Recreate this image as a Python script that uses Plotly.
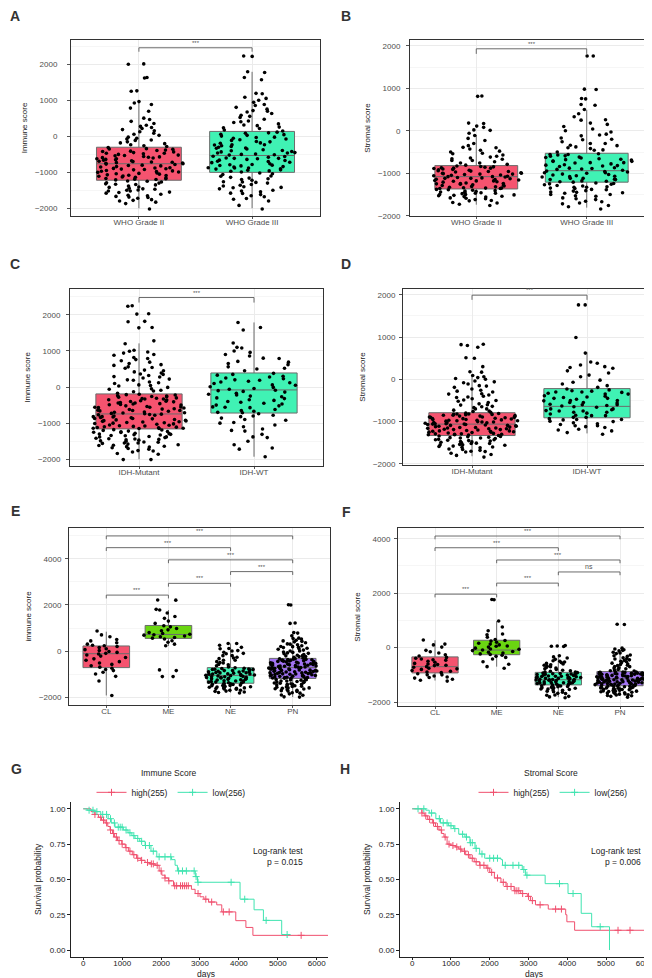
import numpy as np
import plotly.graph_objects as go

W, H = 652, 978
FONT = "Liberation Sans, Arial, sans-serif"

# ---------------- categories ----------------
grade_cats = ["WHO Grade II", "WHO Grade III"]
idh_cats = ["IDH-Mutant", "IDH-WT"]
subtype_cats = ["CL", "ME", "NE", "PN"]

# ---------------- A: immune score by grade ----------------
immune_grade2 = [2020, 2010, 1640, 1630, 1270, 1260, 970, 930, 890, 790, 700,
    510, 470, 360, 310, 280, 250, 190, 160, 90, 60, 30, -20, -70, -110, -150, -180, -230, -260, -280,
    -310, -340, -360, -390, -420, -450, -470, -500, -520, -540, -570, -600, -620, -640, -660, -690,
    -710, -730, -750, -760, -780, -800, -820, -850, -870, -890, -910, -930, -960, -980, -1000, -1020,
    -1040, -1070, -1090, -1110, -1130, -1160, -1180, -1200, -1210, -580, -880, -1050, -430, -700, -950, -1140,
    -1240, -1270, -1290, -1320, -1350, -1380, -1410, -1440, -1470, -1500, -1520, -1550, -1580, -1610,
    -1640, -1670, -1700, -1720, -1760, -1800, -1830, -1870, -2020, -1250, -1330, -1460,
    -350, -410, -480, -530, -590, -650, -720, -770, -840, -900, -970, -1030, -1100, -1170, -1190,
    -380, -560, -810, -1080, -620, -1300, -1420, -1560, -1650, -1780, -1340, -1490, 130, -50, -200,
    420, 220, -100, -1520, -1690, -680, -920, -990, -740, -470]
immune_grade3 = [2240, 2230, 1800, 1780, 1640, 1580, 1200, 1190, 1090, 1060, 1010, 950, 890, 860, 810,
    760, 720, 680, 640, 590, 530, 480, 430, 390, 350, 300, 260, 220, 180,
    120, 90, 50, 10, -30, -70, -110, -150, -190, -230, -260, -300, -330, -370, -400, -430, -460, -490,
    -520, -550, -580, -610, -640, -670, -700, -730, -760, -790, -820, -850, -880, -910, -940, -970, -990,
    -20, -240, -450, -660, -840, 60, -140, -350, -560, -780, -930,
    -1020, -1060, -1100, -1140, -1180, -1220, -1260, -1300, -1340, -1380, -1420, -1460, -1500, -1540,
    -1580, -1620, -1680, -1730, -1800, -1920, -2020, -1110, -1270, -1430,
    -50, -180, -320, -420, -510, -600, -690, -800, -870, -960, 30, -90, -280, -500, -720, -900, 100,
    -390, -620, -810, 560, 700, 410, 320, 240, 150, -1040, -1160, -1280, -1400, -1520, -1650, -1200,
    -1360, -1590, -1750, -610, -460, -230, -880]
# box stats: q1, median, q3, lower whisker, upper whisker
immune_grade_stats = [[-1220, -760, -300, -2000, 960], [-1000, -530, 140, -2000, 1800]]

# ---------------- B: stromal score by grade ----------------
stromal_grade2 = [820, 810, 180, 170, 110, 80, 20, 10, -60, -110, -180, -230, -300, -350, -390, -430,
    -460, -500, -530, -570, -600, -640, -670, -700, -730, -760, -790, -810,
    -830, -850, -870, -890, -910, -930, -950, -970, -990, -1010, -1030, -1050, -1070, -1080, -1090,
    -1110, -1130, -1150, -1170, -1190, -1210, -1230, -1250, -1270, -1290, -1310, -1330, -1350, -1360,
    -900, -1000, -1120, -1240, -960, -1060, -1180, -1300, -880, -1020, -1140,
    -1380, -1400, -1420, -1440, -1460, -1480, -1500, -1520, -1540, -1560, -1590, -1620, -1650, -1690,
    -1730, -1760, -1410, -1470, -1530,
    -840, -880, -920, -960, -1000, -1040, -1080, -1120, -1160, -1200, -1240, -1280, -1320, -1360,
    -860, -940, -1020, -1100, -1180, -1260, -1340, -1390, -1430, -1470, -1510, -1550, -1600, -1450,
    -1500, -700, -620, -540, -480, -400, -760, -660, -1700, -1640, -1580, -1350]
stromal_grade3 = [1760, 1760, 980, 970, 760, 750, 620, 600, 500, 400, 330, 260, 250, 180, 100, 40, -30,
    -80, -120, -170, -210, -260, -300, -340, -380, -420, -460, -500,
    -540, -570, -600, -630, -660, -690, -720, -750, -780, -810, -840, -870, -900, -930, -950, -970,
    -1000, -1030, -1060, -1090, -1120, -1150, -1180, -1200, -620, -710, -820, -990, -1080, -560, -680,
    -890, -1140, -760, -1020,
    -1230, -1260, -1290, -1320, -1350, -1380, -1410, -1440, -1470, -1500, -1540, -1580, -1620, -1670,
    -1720, -1790, -1840, -1250, -1330, -1450,
    -560, -640, -720, -800, -880, -960, -1040, -1120, -1190, -590, -670, -750, -830, -910, -990,
    -1070, -1150, -1210, -1270, -1330, -1390, -1460, -1530, -1600, -1660, -1240, -1300, -1360, -400,
    -300, -200, -100, -450, -350, 0, 150, -1700, -1760, -1500, -1420]
stromal_grade_stats = [[-1370, -1080, -820, -1740, -100], [-1210, -940, -530, -1810, 490]]

# ---------------- C: immune score by IDH ----------------
immune_idh_mut = [2250, 2240, 2030, 2020, 1820, 1810, 1650, 1640, 1280, 1200, 1020, 990, 970, 940, 900,
    880, 820, 790, 730, 690, 650, 600, 560, 520, 470, 420, 390, 350, 320, 290, 250, 220, 190, 140, 100,
    60, 30, -10, -50, -90, -130, -170,
    -200, -220, -250, -280, -300, -330, -360, -390, -410, -440, -470, -490, -520, -540, -570, -600,
    -620, -650, -670, -700, -720, -740, -760, -780, -800, -830, -850, -870, -900, -920, -940, -960,
    -990, -1010, -1030, -1060, -1080, -1100, -1120, -1140, -1150, -260, -350, -460, -550, -640, -730,
    -820, -910, -1000, -1090, -310, -430, -580, -690, -870, -980, -1130,
    -1180, -1200, -1230, -1260, -1290, -1310, -1340, -1370, -1400, -1430, -1460, -1490, -1520, -1550,
    -1580, -1610, -1640, -1680, -1720, -1760, -1800, -1840, -2010, -2010, -1250, -1350, -1450, -1550,
    -1650, -1300, -1420,
    -210, -270, -330, -380, -440, -500, -560, -610, -660, -710, -770, -820, -880, -930, -970, -1020,
    -1070, -1110, -1150, -240, -320, -400, -480, -560, -650, -750, -840, -950, -1050, -1140, -1190,
    -1220, -1280, -1330, -1380, -1440, -1500, -1560, -1620, -1700, -1770, -1860, -1240, -1320, 40,
    120, 200, 280, 360, 450, 540, -60, -110, 620, 760, -1380, -1470, -1530, -1600, -1660]
immune_idh_wt = [1790, 1650, 1580, 1220, 1100, 1080, 1000, 960, 860, 790, 710, 690, 620, 560, 520, 450,
    380, 330, 280, 230, 190, 140, 100, 60, 10, -40, -90, -120, -170, -220, -270, -320, -370, -420,
    -470, -520, -570, -620, -670, -710, 250, -10, -300, -560, 160, -140, -450,
    -740, -780, -820, -860, -920, -980, -1050, -1100, -1160, -1220, -1310, -1380, -1500, -1690,
    -1720, -1930,
    350, 200, 50, -100, -250, -400, -550, -700, 300, 120, -60, -200, -350, -500, -650, -800, -900,
    -1000, -1200, -1400, 500, 650, 800, 900, -1600]
immune_idh_stats = [[-1160, -745, -190, -2000, 1210], [-720, -80, 390, -1930, 1790]]

# ---------------- D: stromal score by IDH ----------------
stromal_idh_mut = [830, 820, 800, 760, 510, 500, 300, 180, 170, 90, 40, 20, 0, -40, -80, -110, -150,
    -190, -230, -260, -300, -340, -370, -400, -430, -460, -490, -520, -550, -580, -610, -640, -670,
    -700, -730, -760, -780,
    -800, -820, -840, -860, -880, -900, -920, -940, -960, -980, -1000, -1020, -1040, -1060, -1080,
    -1100, -1120, -1140, -1160, -1180, -1200, -1220, -1240, -1260, -1280, -1300, -1320, -850, -930,
    -1010, -1090, -1170, -1250, -830, -970, -1110, -1230, -890, -1050, -1190, -1310, -870, -1030,
    -1150, -950, -1070, -1290,
    -1340, -1360, -1380, -1400, -1420, -1440, -1460, -1480, -1500, -1520, -1540, -1560, -1590, -1620,
    -1650, -1680, -1710, -1750, -1800, -1840, -1370, -1430, -1490, -1550, -1610,
    -810, -830, -850, -870, -890, -910, -930, -950, -970, -990, -1010, -1030, -1050, -1070, -1090,
    -1110, -1130, -1150, -1170, -1190, -1210, -1230, -1250, -1270, -1290, -1310, -1330, -820, -900,
    -980, -1060, -1140, -1220, -1300, -1350, -1390, -1430, -1470, -1510, -1550, -1600, -1660, -1720,
    -1390, -1450, -1520, -600, -650, -700, -750, -500, -420, -350, -280, -160, -60, 60, -1580, -1700,
    -1780]
stromal_idh_wt = [1760, 1760, 990, 620, 410, 380, 340, 280, 260, 150, 60, -20, -70, -110, -150, -190,
    -230, -270, -310, -350, -390, -430, -470, -510, -550, -590, -630, -660, -700, -740, -780, -820,
    -860, -900, -280, -420, -560, -720, -860, -330, -500, -620, -780,
    -930, -960, -990, -1030, -1070, -1100, -1140, -1180, -1220, -1260, -1300, -950, -1050, -1120,
    -250, -300, -350, -400, -450, -500, -550, -600, -650, -700, -750, -800, -850, -900, -950, -1000,
    -1100, -1200, -300, -450, -600, -750, 100, 200, 300]
stromal_idh_stats = [[-1330, -1060, -790, -1820, 80], [-910, -640, -220, -1280, 640]]

# ---------------- E: immune score by subtype ----------------
immune_cl = [870, 700, 620, 500, 440, 360, 300, 250, 230, 200, 150, 100, 60, 20, -20, -60, -100, -130,
    -170, -220, -280, -340, -400, -460, -520, -580, -640, -700, -750, -800, -850, -920, -1000, -1100,
    -1300, -1930]
immune_me = [2220, 2210, 1780, 1810, 1650, 1500, 1420, 1300, 1200, 1100, 1050, 980, 920, 880, 800, 760,
    730, 710, 690, 650, 620, 590, 560, 520, 450, 380, 300, 230, -820, -850, -1110, -1110]
immune_ne = [330, 330, 250, 160, 110, 20, -50, -120, -200, -270, -330, -400, -460, -520, -580, -640, -690,
    -730, -760, -790, -820, -850, -880, -910, -940, -960, -990, -1010, -1040, -1060, -1080, -1110,
    -1140, -1170, -1200, -1230, -1260, -1290, -1320, -1350, -1380, -1390, -800, -870, -930, -1000,
    -1070, -1150, -1220, -1300, -780, -1020, -1180, -1340, -900, -1120,
    -1420, -1450, -1480, -1510, -1540, -1570, -1600, -1630, -1660, -1700, -1740, -1780, -1820, -1440,
    -1500, -1560, -1620,
    -750, -800, -850, -900, -950, -1000, -1050, -1100, -1150, -1200, -1250, -1300, -1350, -1400,
    -1450, -1500, -1550, -1600, -1650, -1700, -1750, -1800, -600, -500, -400, -300, -200, -100, 0, 100]
immune_pn = [2010, 2000, 1220, 1200, 800, 780, 660, 560, 520, 470, 440, 400, 360, 310, 270, 230, 190,
    150, 120, 80, 40, 0, -40, -80, -120, -150, -180, -210, -240, -270, -300,
    -330, -350, -370, -390, -410, -430, -450, -470, -490, -510, -530, -550, -570, -590, -610, -630,
    -650, -670, -690, -710, -730, -750, -770, -790, -810, -830, -850, -870, -890, -910, -930, -950,
    -970, -990, -1010, -1030, -1050, -1070, -1090, -1110, -1130, -1150, -1170, -1180, -360, -440,
    -520, -600, -680, -760, -840, -920, -1000, -1080, -400, -560, -720, -880, -1040,
    -1210, -1240, -1270, -1300, -1330, -1360, -1390, -1420, -1450, -1480, -1510, -1540, -1570, -1600,
    -1640, -1680, -1720, -1760, -1810, -1860, -1920, -1990, -2000, -1260, -1350, -1440, -1530, -1620,
    -340, -420, -500, -580, -660, -740, -820, -900, -980, -1060, -1140, -380, -460, -540, -620, -700,
    -780, -860, -940, -1020, -1100, -1180, -1250, -1320, -1400, -1480, -1560, -1650, -1740, -1830,
    -1910, -200, -100, 0, 100, 200, 300, 420, 540, -60, -240, 160, -1300, -1450, -1600, -1700, -350,
    -650, -950, -1150]
immune_subtype_stats = [[-720, -115, 220, -1930, 840], [550, 720, 1110, 220, 1780],
                        [-1400, -1060, -720, -1810, 330], [-1190, -720, -320, -2000, 770]]

# ---------------- F: stromal score by subtype ----------------
stromal_cl = [280, 130, 100, 20, -100, -150, -200, -260, -310, -360, -390, -420, -460, -500, -540, -580,
    -620, -660, -700, -720, -760, -800, -840, -870, -900, -920, -450, -600, -780, -650,
    -960, -1000, -1040, -1080, -1120, -1160, -1200, -1230, -1100, -1000]
stromal_me = [1770, 1760, 980, 760, 620, 500, 470, 380, 300, 260, 240, 200, 160, 130, 100, 60, 20, -20,
    -60, -90, -110, -140, -170, -200, -230, -250, 50, -50, -280, -320, -360, -420, -520, -610, -700, -760]
stromal_ne = [80, 60, 50, 40, -300, -340, -380, -430, -480, -530, -580, -630, -680, -730, -780, -830,
    -870, -900, -920, -940, -960, -980, -1000, -1020, -1040, -1060, -1080, -1100, -1120, -1140, -1160,
    -1180, -1200, -1220, -1240, -1260, -1280, -1300, -1320, -1340, -1360, -950, -1010, -1070, -1130,
    -1190, -1250, -1310, -990, -1110, -1230, -1050, -1170, -1290,
    -1380, -1400, -1430, -1460, -1490, -1520, -1560, -1600, -1640, -1690, -1740, -1790, -1840, -1410,
    -1470, -1540,
    -930, -970, -1010, -1050, -1090, -1130, -1170, -1210, -1250, -1290, -1330, -1370, -1400, -1440,
    -1480, -1520, -1570, -1620, -1680, -1750, -1810, -900, -850, -800, -750, -700, -650, -600, -550, -500]
stromal_pn = [860, 850, -20, -50, -80, -120, -170, -220, -270, -320, -370, -420, -470, -520, -570, -620,
    -660, -700, -740, -780, -820, -860,
    -890, -910, -930, -950, -970, -990, -1010, -1030, -1050, -1070, -1090, -1110, -1130, -1150, -1170,
    -1190, -1210, -1230, -1250, -1270, -1290, -1310, -1330, -1350, -1370, -1390, -900, -960, -1020,
    -1080, -1140, -1200, -1260, -1320, -1380, -920, -1000, -1060, -1120, -1180, -1240, -1300, -1360,
    -940, -1040, -1160, -1280, -980, -1100, -1220, -1340,
    -1410, -1430, -1450, -1470, -1490, -1510, -1530, -1550, -1570, -1590, -1610, -1640, -1670, -1700,
    -1730, -1760, -1790, -1820, -1420, -1480, -1540, -1600, -1660,
    -900, -940, -980, -1020, -1060, -1100, -1140, -1180, -1220, -1260, -1300, -1340, -1380, -910, -970,
    -1030, -1090, -1150, -1210, -1270, -1330, -1390, -1420, -1460, -1500, -1540, -1580, -1620, -1680,
    -1740, -1440, -1520, -1600, -800, -700, -600, -500, -400, -300, -200, -100, -850, -750, -650,
    -550, -450, -1650, -1710, -1770, -1480]
stromal_subtype_stats = [[-930, -700, -340, -1210, 270], [-260, -90, 270, -700, 980],
                         [-1370, -1180, -910, -1820, -340], [-1400, -1150, -880, -1770, -170]]

# significance brackets: (group i, group j), bracket height, label
grade_sig_immune = ([(0, 1)], [2470], ["***"])
grade_sig_stromal = ([(0, 1)], [1930], ["***"])
idh_sig_immune = ([(0, 1)], [2480], ["***"])
idh_sig_stromal = ([(0, 1)], [1990], ["***"])
subtype_pairs = [(0, 1), (1, 2), (2, 3), (1, 3), (0, 2), (0, 3)]
subtype_sig_immune = (subtype_pairs, [2430, 2940, 3450, 3960, 4490, 5000], ["***"] * 6)
subtype_sig_stromal = (subtype_pairs, [1965, 2370, 2780, 3220, 3670, 4100],
                       ["***", "***", "ns", "***", "***", "***"])

# ---------------- G / H: Kaplan-Meier ----------------
km_immune_high_t = [0, 70, 200, 300, 390, 470, 560, 630, 690, 750, 800, 880, 990, 1080, 1160, 1260, 1370,
    1480, 1590, 1700, 1850, 1950, 2020, 2100, 2190, 2320, 2780, 2875, 3000, 3100, 3220, 3430, 3560,
    3920, 4180, 4360, 6300]
km_immune_high_s = [1.0, 1.0, 0.98, 0.96, 0.94, 0.92, 0.90, 0.875, 0.85, 0.825, 0.80, 0.775, 0.75, 0.725,
    0.70, 0.675, 0.65, 0.635, 0.62, 0.61, 0.60, 0.56, 0.53, 0.51, 0.49, 0.455, 0.43, 0.40, 0.377, 0.36,
    0.34, 0.32, 0.27, 0.208, 0.16, 0.104, 0.104]
km_immune_high_cens = [300, 450, 520, 600, 700, 780, 850, 920, 1000, 1100, 1200, 1300, 1400, 1500, 1650,
    1750, 1800, 1900, 2000, 2100, 2200, 2350, 2400, 2500, 2550, 2600, 2650, 2700, 2950, 3150, 3300,
    3600, 3750, 5600]
km_immune_low_t = [0, 100, 300, 450, 640, 720, 815, 1030, 1150, 1250, 1330, 1450, 1590, 1740, 1890, 2270,
    2360, 2420, 2880, 2935, 4030, 4390, 4630, 5100, 5240]
km_immune_low_s = [1.0, 0.99, 0.98, 0.96, 0.93, 0.90, 0.87, 0.85, 0.83, 0.81, 0.79, 0.77, 0.74, 0.70,
    0.66, 0.64, 0.60, 0.56, 0.52, 0.48, 0.36, 0.285, 0.21, 0.11, 0.11]
km_immune_low_cens = [150, 250, 350, 500, 600, 700, 800, 900, 950, 1000, 1100, 1200, 1300, 1400, 1500,
    1600, 1700, 1800, 1950, 2100, 2250, 2450, 2550, 2650, 2850, 2900, 2950, 3800, 4150, 4700, 5240]

km_stromal_high_t = [0, 185, 250, 310, 400, 520, 600, 690, 760, 820, 900, 1000, 1110, 1200, 1280, 1380,
    1490, 1600, 1740, 1910, 2000, 2120, 2290, 2420, 2630, 2800, 2970, 3050, 3180, 3510, 3960, 3990,
    4190, 6300]
km_stromal_high_s = [1.0, 1.0, 0.97, 0.95, 0.925, 0.90, 0.875, 0.85, 0.825, 0.80, 0.75, 0.74, 0.73,
    0.715, 0.70, 0.675, 0.65, 0.625, 0.60, 0.58, 0.55, 0.51, 0.48, 0.45, 0.42, 0.40, 0.38, 0.35, 0.32,
    0.29, 0.25, 0.20, 0.14, 0.14]
km_stromal_high_cens = [250, 350, 450, 550, 650, 750, 850, 950, 1050, 1150, 1250, 1350, 1450, 1550,
    1650, 1750, 1850, 1950, 2050, 2200, 2350, 2450, 2550, 2650, 2700, 2750, 2850, 3000, 3100, 3300,
    3700, 3850, 5310, 5620]
km_stromal_low_t = [0, 350, 440, 610, 730, 940, 1070, 1200, 1360, 1490, 1620, 1740, 1870, 2290, 2330,
    2840, 2920, 3430, 4020, 4360, 4630, 5090]
km_stromal_low_s = [1.0, 0.99, 0.97, 0.93, 0.90, 0.88, 0.86, 0.82, 0.80, 0.76, 0.72, 0.68, 0.65, 0.64,
    0.60, 0.57, 0.53, 0.47, 0.40, 0.26, 0.165, 0.0]
km_stromal_low_cens = [150, 300, 500, 700, 800, 900, 1000, 1100, 1300, 1400, 1500, 1550, 1650, 1800,
    2000, 2100, 2200, 2400, 2600, 2750, 2880, 2960, 3800, 4150, 4850]

km_legend_labels = ["high(255)", "low(256)"]
km_pvalues = ["p = 0.015", "p = 0.006"]

# ---------------- styling ----------------
RED = "#F5536F"
TEAL = "#40F2B4"
GREEN = "#6AD611"
PURPLE = "#A273F2"
KM_RED = "#F0506E"
KM_TEAL = "#3FE4B0"
GRID = "#EBEBEB"
MINOR = "#F6F6F6"
TXT = "#4D4D4D"


def xd(a, b):
    return [a / W, b / W]


def yd(top, bottom):
    return [1 - bottom / H, 1 - top / H]


fig = go.Figure()
layout = dict(width=W, height=H, margin=dict(l=0, r=0, t=0, b=0),
              paper_bgcolor="white", plot_bgcolor="white", boxmode="overlay",
              font=dict(family=FONT, size=8, color=TXT), showlegend=True,
              annotations=[], shapes=[])

box_panels = [
    # axis idx, cats, values, stats, colors, xdom, ydom, yrange, dtick, ytitle, sig, drop, ylabel pad
    (1, grade_cats, [immune_grade2, immune_grade3], immune_grade_stats, [RED, TEAL],
     (63, 312), (32, 209), [-2220, 2690], 1000, "Immune score", grade_sig_immune, 110, 8),
    (2, grade_cats, [stromal_grade2, stromal_grade3], stromal_grade_stats, [RED, TEAL],
     (402, 645), (32, 209), [-2010, 2140], 1000, "Stromal score", grade_sig_stromal, 120, 4),
    (3, idh_cats, [immune_idh_mut, immune_idh_wt], immune_idh_stats, [RED, TEAL],
     (62, 315), (282, 460), [-2190, 2720], 1000, "Immune score", idh_sig_immune, 140, 4),
    (4, idh_cats, [stromal_idh_mut, stromal_idh_wt], stromal_idh_stats, [RED, TEAL],
     (395, 648), (282, 459), [-2030, 2140], 1000, "Stromal score", idh_sig_stromal, 110, 2),
    (5, subtype_cats, [immune_cl, immune_me, immune_ne, immune_pn], immune_subtype_stats,
     [RED, GREEN, TEAL, PURPLE], (61, 322), (522, 700), [-2350, 5350], 2000, "immune score",
     subtype_sig_immune, 145, 2),
    (6, subtype_cats, [stromal_cl, stromal_me, stromal_ne, stromal_pn], stromal_subtype_stats,
     [RED, GREEN, TEAL, PURPLE], (390, 649), (522, 701), [-2150, 4400], 2000, "Stromal score",
     subtype_sig_stromal, 120, 2),
]

for (i, cats, vals, stats, cols, xdom, ydom, yr, dt, ytitle, sig, drop, ypad) in box_panels:
    xa = "x" if i == 1 else f"x{i}"
    ya = "y" if i == 1 else f"y{i}"
    xkey = "xaxis" if i == 1 else f"xaxis{i}"
    ykey = "yaxis" if i == 1 else f"yaxis{i}"
    n = len(cats)
    for c, v, st, col in zip(cats, vals, stats, cols):
        q1, med, q3, lo, hi = st
        fig.add_trace(go.Box(x=[c], q1=[q1], median=[med], q3=[q3], lowerfence=[lo],
                             upperfence=[hi], fillcolor=col, boxpoints=False, width=0.75,
                             whiskerwidth=0, line=dict(color="#6b6b6b", width=1),
                             xaxis=xa, yaxis=ya, showlegend=False, hoverinfo="skip"))
    for c, v in zip(cats, vals):
        fig.add_trace(go.Box(x=[c] * len(v), y=v, boxpoints="all", jitter=1, pointpos=0,
                             width=0.82, whiskerwidth=0, fillcolor="rgba(0,0,0,0)",
                             line=dict(color="rgba(0,0,0,0)", width=0),
                             marker=dict(color="black", size=3.6),
                             xaxis=xa, yaxis=ya, showlegend=False, hoveron="points"))
    pairs, heights, labels = sig
    for (a, b), h, lab in zip(pairs, heights, labels):
        fig.add_trace(go.Scatter(x=[cats[a], cats[a], cats[b], cats[b]],
                                 y=[h - drop, h, h, h - drop], mode="lines",
                                 line=dict(color="#5a5a5a", width=0.9),
                                 xaxis=xa, yaxis=ya, showlegend=False, hoverinfo="skip"))
        layout["annotations"].append(dict(x=(a + b) / 2, y=h, xref=xa, yref=ya, text=lab,
                                          showarrow=False, yanchor="bottom",
                                          font=dict(size=7 if lab == "ns" else 6, color="#555")))
    layout[xkey] = dict(domain=xd(*xdom), anchor=ya, type="category", categoryorder="array",
                        categoryarray=cats, range=[-0.6, n - 0.4], showline=True, mirror=True,
                        linecolor="#333", linewidth=1, showgrid=True, gridcolor=GRID,
                        ticks="outside", ticklen=2, tickcolor="#555", zeroline=False,
                        ticklabelstandoff=-4, tickfont=dict(size=8, color=TXT))
    layout[ykey] = dict(domain=yd(*ydom), anchor=xa, range=yr, dtick=dt, showline=True,
                        mirror=True, linecolor="#333", linewidth=1, showgrid=True,
                        gridcolor=GRID, minor=dict(dtick=dt / 2, showgrid=True, gridcolor=MINOR),
                        ticks="outside", ticklen=3, tickcolor="#555", zeroline=False,
                        ticklabelstandoff=ypad, tickfont=dict(size=8, color=TXT),
                        title=dict(text=ytitle, font=dict(size=8, color="#222"), standoff=6))

# ---------------- KM panels ----------------
def step_at(t, s, ct):
    idx = np.searchsorted(np.array(t), np.array(ct), side="right") - 1
    return np.array(s)[idx]


km_panels = [
    (7, (63, 320), "legend", "Immune Score", 163,
     [(km_immune_high_t, km_immune_high_s, km_immune_high_cens, KM_RED),
      (km_immune_low_t, km_immune_low_s, km_immune_low_cens, KM_TEAL)], km_pvalues[0], 297),
    (8, (392, 648), "legend2", "Stromal Score", 545,
     [(km_stromal_high_t, km_stromal_high_s, km_stromal_high_cens, KM_RED),
      (km_stromal_low_t, km_stromal_low_s, km_stromal_low_cens, KM_TEAL)], km_pvalues[1], 635),
]

for (i, xdom, leg, ltitle, lcx, curves, ptxt, px) in km_panels:
    xa, ya = f"x{i}", f"y{i}"
    for (t, s, cens, col), lab in zip(curves, km_legend_labels):
        fig.add_trace(go.Scatter(x=t, y=s, mode="lines", line=dict(shape="hv", color=col, width=1),
                                 xaxis=xa, yaxis=ya, showlegend=False, hoverinfo="skip"))
        fig.add_trace(go.Scatter(x=cens, y=step_at(t, s, cens), mode="markers",
                                 marker=dict(symbol="cross-thin", size=5,
                                             line=dict(color=col, width=1)),
                                 xaxis=xa, yaxis=ya, showlegend=False, hoverinfo="skip"))
        fig.add_trace(go.Scatter(x=[None], y=[None], mode="lines+markers", name=lab,
                                 line=dict(color=col, width=1),
                                 marker=dict(symbol="cross-thin", size=5,
                                             line=dict(color=col, width=1)),
                                 xaxis=xa, yaxis=ya, legend=leg))
    layout[leg] = dict(orientation="h", x=lcx / W, xanchor="center", y=1 - 773 / H,
                       yanchor="top", font=dict(size=8.5, color="#222"),
                       bgcolor="rgba(0,0,0,0)", itemwidth=30, tracegroupgap=0)
    cx = (xdom[0] + xdom[1]) / 2
    for txt, tx, ty, anc in [(ltitle, lcx - 2, 768, "center"), ("Log-rank test", px, 846, "right"),
                             (ptxt, px, 858, "right"), ("days", cx + 6, 970, "center")]:
        layout["annotations"].append(dict(x=tx / W, y=1 - ty / H, xref="paper", yref="paper",
                                          text=txt, showarrow=False, xanchor=anc,
                                          yanchor="middle", font=dict(size=8.5, color="#222")))
    layout[f"xaxis{i}"] = dict(domain=xd(*xdom), anchor=ya, range=[-315, 6290], dtick=1000,
                               showline=True, linecolor="#222", linewidth=1, showgrid=False,
                               zeroline=False, ticks="outside", ticklen=2, tickcolor="#222",
                               ticklabelstandoff=-4, ticklabeloverflow="allow",
                               tickfont=dict(size=8, color="#222"))
    layout[f"yaxis{i}"] = dict(domain=yd(797, 953), anchor=xa, range=[-0.05, 1.05],
                               tickvals=[0, 0.25, 0.5, 0.75, 1.0], tickformat=".2f",
                               showline=True, linecolor="#222", linewidth=1, showgrid=False,
                               zeroline=False, ticks="outside", ticklen=3, tickcolor="#222",
                               tickfont=dict(size=8, color="#222"),
                               title=dict(text="Survival probability",
                                          font=dict(size=8.5, color="#222"), standoff=6))

# panel letters
for letter, (lx, ly) in zip("ABCDEFGH", [(7, 8), (338, 8), (7, 257), (338, 257), (7, 505),
                                         (338, 506), (8, 764), (337, 764)]):
    layout["annotations"].append(dict(x=lx / W, y=1 - ly / H, xref="paper", yref="paper",
                                      text=f"<b>{letter}</b>", showarrow=False,
                                      xanchor="center", yanchor="middle",
                                      font=dict(size=14, color="#333")))

fig.update_layout(**layout)
fig.write_html("out.html")
